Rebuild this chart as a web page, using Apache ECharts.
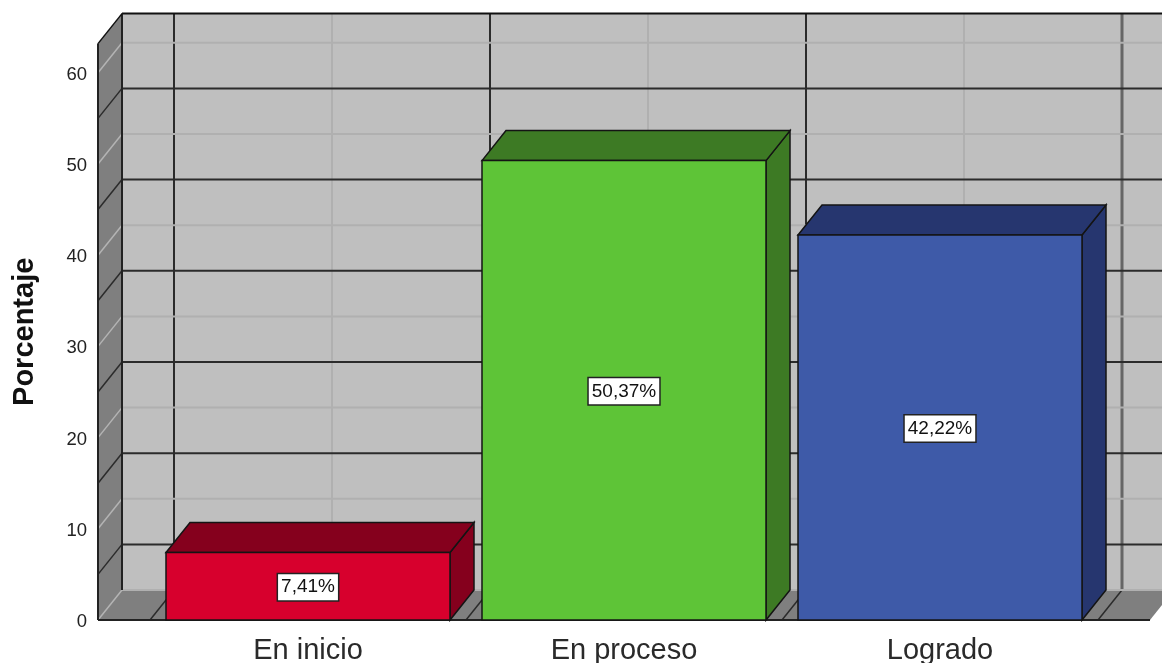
<!DOCTYPE html>
<html>
<head>
<meta charset="utf-8">
<style>
  html, body { margin: 0; padding: 0; background: #fff; }
  #chart { width: 1162px; height: 663px; }
</style>
<script src="https://cdn.jsdelivr.net/npm/echarts@6/dist/echarts.min.js"></script>
</head>
<body>
<div id="chart"></div>
<script>
const categories = ['En inicio', 'En proceso', 'Logrado']
const percentages = [7.41, 50.37, 42.22]
const barColors = ['#d7002d', '#5ec437', '#3e5aa8']
const barDarkColors = ['#85001d', '#3d7a24', '#26366f']
const lightTicks = [0, 10, 20, 30, 40, 50, 60]
const darkTicks = [5, 15, 25, 35, 45, 55]
const yMax = 63.2

// profundidad del efecto 3D, en pixeles
const DX = 24
const DY = -30
const WALL_MARGIN = 52
const BAR_WIDTH = 284
const DARK = '#2b2b2b'
const LIGHT = '#b0b0b0'
const LIGHT_SIDE = '#b4b4b4'

function line (x1, y1, x2, y2, stroke, lineWidth) {
  return { type: 'line', shape: { x1, y1, x2, y2 }, style: { stroke, lineWidth, fill: null } }
}

function poly (points, fill, stroke) {
  return { type: 'polygon', shape: { points }, style: { fill, stroke, lineWidth: stroke ? 1.5 : 0 } }
}

// paredes y suelo
function renderWalls (params, api) {
  const band = api.size([1, 0])[0]
  const y0 = api.coord([0, 0])[1]
  const yTop = api.coord([0, yMax])[1]
  const first = api.coord([0, 0])[0] - band / 2
  const left = first - WALL_MARGIN
  const right = first + band * categories.length + WALL_MARGIN
  const kids = []

  kids.push(poly([[left + DX, yTop + DY], [right + DX, yTop + DY], [right + DX, y0 + DY], [left + DX, y0 + DY]], '#bfbfbf'))
  kids.push(poly([[left, yTop], [left + DX, yTop + DY], [left + DX, y0 + DY], [left, y0]], '#7f7f7f'))
  kids.push(poly([[left, y0], [left + DX, y0 + DY], [right + DX, y0 + DY], [right, y0]], '#7f7f7f'))

  // lineas verticales: centro de categoria (claras) y limites (oscuras)
  categories.forEach((c, i) => {
    const cx = api.coord([i, 0])[0]
    kids.push(line(cx + DX, yTop + DY, cx + DX, y0 + DY, LIGHT, 2))
    kids.push(line(cx, y0, cx + DX, y0 + DY, LIGHT_SIDE, 1.5))
  })
  for (let i = 0; i <= categories.length; i++) {
    const bx = first + band * i
    const last = i === categories.length
    kids.push(line(bx + DX, yTop + DY, bx + DX, y0 + DY, last ? '#666' : DARK, last ? 3 : 2))
    kids.push(line(bx, y0, bx + DX, y0 + DY, DARK, 1.5))
  }

  lightTicks.forEach(t => {
    const y = api.coord([0, t])[1]
    kids.push(line(left + DX, y + DY, right + DX, y + DY, LIGHT, 2))
    kids.push(line(left, y, left + DX, y + DY, LIGHT_SIDE, 1.5))
  })
  darkTicks.forEach(t => {
    const y = api.coord([0, t])[1]
    kids.push(line(left + DX, y + DY, right + DX, y + DY, DARK, 2))
    kids.push(line(left, y, left + DX, y + DY, DARK, 1.5))
  })

  // bordes
  kids.push(line(left + DX, yTop + DY, right + DX, yTop + DY, '#111', 2))
  kids.push(line(left + DX, yTop + DY, left + DX, y0 + DY, '#222', 2))
  kids.push(line(left, yTop, left + DX, yTop + DY, '#111', 1.5))
  kids.push(line(left, yTop, left, y0, '#222', 2))
  kids.push(line(left, y0, right, y0, '#222', 2))

  return { type: 'group', children: kids }
}

function renderBar (params, api) {
  const i = api.value(0)
  const val = api.value(1)
  const cx = api.coord([i, 0])[0]
  const y0 = api.coord([i, 0])[1]
  const yv = api.coord([i, val])[1]
  const x1 = cx - BAR_WIDTH / 2
  const x2 = cx + BAR_WIDTH / 2
  const stroke = '#141414'
  return {
    type: 'group',
    children: [
      poly([[x2, yv], [x2 + DX, yv + DY], [x2 + DX, y0 + DY], [x2, y0]], barDarkColors[i], stroke),
      poly([[x1, yv], [x1 + DX, yv + DY], [x2 + DX, yv + DY], [x2, yv]], barDarkColors[i], stroke),
      poly([[x1, yv], [x2, yv], [x2, y0], [x1, y0]], barColors[i], stroke),
      {
        type: 'text',
        style: {
          x: cx,
          y: (yv + y0) / 2 + 1,
          text: val.toFixed(2).replace('.', ',') + '%',
          align: 'center',
          verticalAlign: 'middle',
          font: '19px "Liberation Sans", Arial, sans-serif',
          fill: '#111',
          backgroundColor: '#fff',
          borderColor: '#222',
          borderWidth: 1.5,
          padding: [4, 3, 3, 3]
        }
      }
    ]
  }
}

const chartBox = echarts.init(document.getElementById('chart'), null, { renderer: 'canvas' })

const option = {
  animation: false,
  backgroundColor: '#fff',
  grid: {
    left: 150,
    width: 948,
    top: 43.6,
    height: 576.4,
    outerBoundsMode: 'none'
  },
  xAxis: {
    type: 'category',
    data: categories,
    axisLine: { show: false },
    axisTick: { show: false },
    splitLine: { show: false },
    axisLabel: {
      margin: 16,
      color: '#2a2a2a',
      fontFamily: '"Liberation Sans", Arial, sans-serif',
      fontSize: 29
    }
  },
  yAxis: {
    type: 'value',
    min: 0,
    max: yMax,
    interval: 10,
    offset: 52,
    name: 'Porcentaje',
    nameLocation: 'middle',
    nameRotate: 90,
    nameGap: 59,
    nameTextStyle: {
      color: '#111',
      fontFamily: '"Liberation Sans", Arial, sans-serif',
      fontSize: 29,
      fontWeight: 'bold'
    },
    axisLine: { show: false },
    axisTick: { show: false },
    splitLine: { show: false },
    axisLabel: {
      margin: 11,
      showMaxLabel: false,
      color: '#222',
      fontFamily: '"Liberation Sans", Arial, sans-serif',
      fontSize: 18.5,
      verticalAlign: 'top',
      lineHeight: 4
    }
  },
  series: [
    {
      type: 'custom',
      name: 'paredes',
      z: 1,
      silent: true,
      clip: false,
      data: [[0, 0]],
      encode: { x: 0, y: 1 },
      renderItem: renderWalls
    },
    {
      type: 'custom',
      name: 'Porcentaje',
      z: 2,
      clip: false,
      data: percentages.map((v, i) => [i, v]),
      encode: { x: 0, y: 1 },
      renderItem: renderBar
    }
  ]
}

chartBox.setOption(option, true)
window.addEventListener('resize', function () {
  chartBox.resize()
})
</script>
</body>
</html>
